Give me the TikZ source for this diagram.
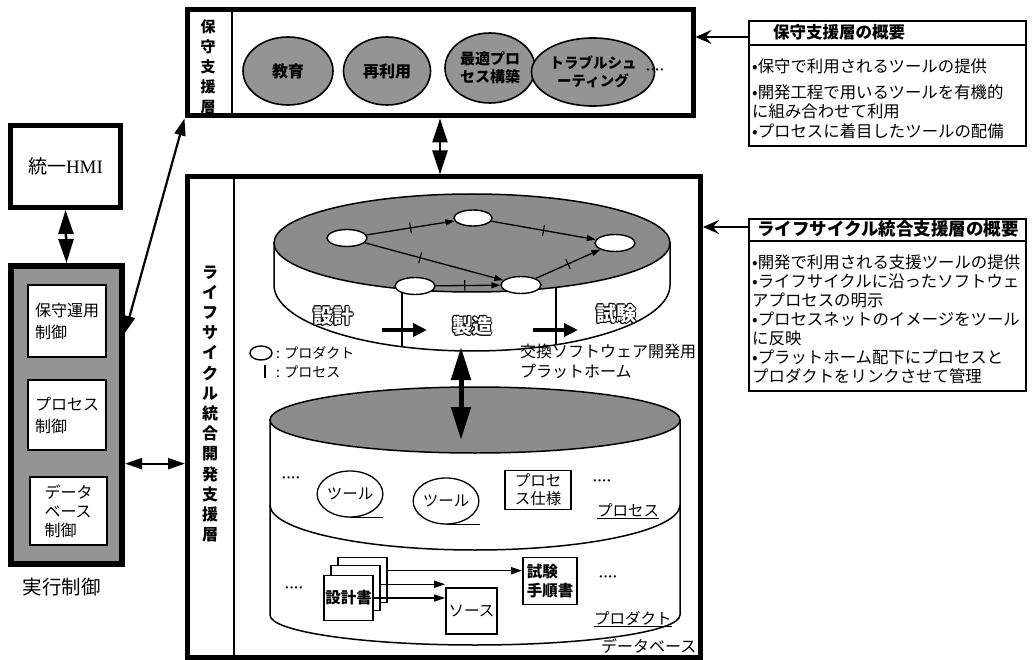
\documentclass[tikz,border=0pt]{standalone}
\usepackage{fontspec}
\setmainfont{Liberation Serif}
\newfontfamily\jp{Noto Sans CJK JP}
\usetikzlibrary{arrows.meta,shapes.geometric,calc}
\newcommand\fs[2]{\fontsize{#1}{#2}\selectfont}
\tikzset{
  heavybox/.style={draw, line width=5pt, fill=white, inner sep=0pt},
  whitebox/.style={draw, line width=1.6pt, fill=white, inner sep=0pt},
  shadebox/.style={draw, line width=6pt, fill=black!42, inner sep=0pt},
  sumbox/.style={draw, line width=2.5pt, fill=white, inner sep=0pt},
  blob/.style={ellipse, draw, line width=1.6pt, fill=black!42, inner sep=0pt, align=center, font=\jp\bfseries\fs{16}{18}},
  netnode/.style={ellipse, draw, line width=1.4pt, fill=white, minimum width=40pt, minimum height=17pt, inner sep=0pt},
  bigarr/.style={line width=2.5pt, {Triangle[length=24pt,width=15pt]}-{Triangle[length=24pt,width=15pt]}},
  midarr/.style={line width=2.2pt, {Triangle[length=17pt,width=11pt]}-{Triangle[length=17pt,width=11pt]}},
  openarr/.style={line width=1.8pt, -{Stealth[length=16pt,width=14pt,inset=6pt]}},
  netarr/.style={line width=1.3pt, -{Triangle[length=9pt,width=6pt]}},
  diskarr/.style={line width=3.5pt, -{Triangle[length=14pt,width=13pt]}},
  dbarr/.style={line width=5pt, {Triangle[length=33pt,width=19pt]}-{Triangle[length=33pt,width=19pt]}},
  thinarr/.style={line width=1.3pt, -{Triangle[length=11pt,width=7pt]}},
  tickmark/.style={draw, line width=1.1pt, minimum width=0pt, minimum height=11pt, inner sep=0pt, sloped},
  body/.style={anchor=west, inner sep=0pt, font=\jp\fs{16.4}{19}},
  btxt/.style={inner sep=0pt, font=\jp\bfseries\fs{15}{18}, align=center},
  dots/.style={inner sep=0pt, font=\bfseries\fs{14}{14}},
  disklabel/.style={inner sep=0pt, font=\jp\bfseries\fs{20}{20}},
}
\begin{document}
\begin{tikzpicture}[x=1pt,y=-1pt]
\useasboundingbox (0,0) rectangle (1033,660);

% ---------- maintenance support layer (top box)
\node[heavybox, minimum width=506pt, minimum height=106pt] (hosyu) at (440,63) {};
\draw[line width=1.2pt] (232,10) -- (232,116);
\node[btxt, font=\jp\bfseries\fs{15}{20}] (hosyulbl) at (208,67) {保\\守\\支\\援\\層};
\node[blob, minimum width=90pt, minimum height=68pt] (kyoiku) at (288,71) {教育};
\node[blob, minimum width=87pt, minimum height=68pt] (sairiyo) at (387,71) {再利用};
\node[blob, minimum width=90pt, minimum height=70pt, font=\jp\bfseries\fs{15}{18}] (saiteki) at (490,68) {最適プロ\\セス構築};
\node[blob, minimum width=89pt, minimum height=68pt, font=\jp\bfseries\fs{14.5}{18}] (trouble) at (593,72) {トラブルシュ\\ーティング};
\node[dots] (dots0) at (655,72) {····};

% ---------- summary box 1
\node[sumbox, minimum width=277pt, minimum height=125pt] (sum1) at (887.5,83.5) {};
\draw[line width=1.6pt] (748,45) -- (1027,45);
\node[anchor=west, inner sep=0pt, font=\jp\bfseries\fs{16.5}{16}] (sum1h) at (773,32) {保守支援層の概要};
\node[body] (s1l1) at (752,66) {•保守で利用されるツールの提供};
\node[body] (s1l2) at (752,92) {•開発工程で用いるツールを有機的};
\node[body] (s1l3) at (752,111) {に組み合わせて利用};
\node[body] (s1l4) at (752,131) {•プロセスに着目したツールの配備};
\coordinate (s1a) at (748,37);
\draw[openarr] (s1a) -- (s1a -| hosyu.east);

% ---------- summary box 2
\node[sumbox, minimum width=277pt, minimum height=172pt] (sum2) at (887.5,305) {};
\draw[line width=1.6pt] (748,241) -- (1027,241);
\node[anchor=west, inner sep=0pt, font=\jp\bfseries\fs{17.5}{17}] (sum2h) at (757,229) {ライフサイクル統合支援層の概要};
\node[body] (s2l1) at (752,262) {•開発で利用される支援ツールの提供};
\node[body] (s2l2) at (752,281) {•ライフサイクルに沿ったソフトウェ};
\node[body] (s2l3) at (752,300) {アプロセスの明示};
\node[body] (s2l4) at (752,319) {•プロセスネットのイメージをツール};
\node[body] (s2l5) at (752,338) {に反映};
\node[body] (s2l6) at (752,357) {•プラットホーム配下にプロセスと};
\node[body] (s2l7) at (752,376) {プロダクトをリンクさせて管理};

% ---------- lifecycle layer (main box)
\node[heavybox, minimum width=513pt, minimum height=480pt] (mainbox) at (444,417) {};
\draw[line width=1.2pt] (234,177.5) -- (234,657);
\node[btxt, font=\jp\bfseries\fs{16}{20.2}] (lclbl) at (210,404) {ラ\\イ\\フ\\サ\\イ\\ク\\ル\\統\\合\\開\\発\\支\\援\\層};
\coordinate (s2a) at (748,227);
\draw[openarr] (s2a) -- (s2a -| mainbox.east);
\draw[bigarr] (hosyu.south) -- (hosyu.south |- mainbox.north);

% ---------- upper disk (platform)
\draw[line width=1.5pt, fill=white] (274,243) -- (274,285) arc[start angle=180, end angle=0, x radius=198, y radius=66] -- (670,243) -- cycle;
\draw[line width=1.5pt, fill=black!45] (472,243) ellipse [x radius=198, y radius=49];
\draw[line width=1.2pt] (402,288.8) -- (402,346.7);
\draw[line width=1.2pt] (556,287.4) -- (556,344.8);
\node[netnode] (n1) at (347,238) {};
\node[netnode, minimum width=38pt, minimum height=16pt] (n2) at (473,218) {};
\node[netnode] (n3) at (615,243) {};
\node[netnode] (n4) at (521,285) {};
\node[netnode] (n5) at (415,286) {};
\draw[netarr] (n1) -- node[tickmark, pos=0.5]{} (n2);
\draw[netarr] (n2) -- node[tickmark, pos=0.5]{} (n3);
\draw[netarr] (n1) -- node[tickmark, pos=0.4]{} (n4);
\draw[netarr] (n5) -- node[tickmark, pos=0.45]{} (n4);
\draw[netarr] (n4) -- node[tickmark, pos=0.5]{} (n3);
\foreach \dx/\dy in {1/0,-1/0,0/1,0/-1,0.7/0.7,-0.7/0.7,0.7/-0.7,-0.7/-0.7}{
  \node[disklabel] at (333+\dx,316+\dy) {設計};
  \node[disklabel] at (472+\dx,326+\dy) {製造};
  \node[disklabel] at (616+\dx,314+\dy) {試験};
}
\node[disklabel, text=white] (sekkei) at (333,316) {設計};
\node[disklabel, text=white] (seizo) at (472,326) {製造};
\node[disklabel, text=white] (shiken) at (616,314) {試験};
\coordinate (da1) at (382,330); \coordinate (da2) at (427,330);
\coordinate (db1) at (533,330); \coordinate (db2) at (578,330);
\draw[diskarr] (da1) -- (da2);
\draw[diskarr] (db1) -- (db2);

% legend + platform label
\node[netnode, minimum width=22pt, minimum height=14pt] (legp) at (261,353) {};
\node[anchor=west, inner sep=0pt, font=\jp\fs{14}{14}] (legpt) at (276,353) {: プロダクト};
\draw[line width=1.3pt] (265,365) -- (265,378);
\node[anchor=west, inner sep=0pt, font=\jp\fs{14}{14}] (legst) at (276,372) {: プロセス};
\node[anchor=west, inner sep=0pt, font=\jp\fs{16}{16}] (plat1) at (520,351) {交換ソフトウェア開発用};
\node[anchor=west, inner sep=0pt, font=\jp\fs{16}{16}] (plat2) at (520,371) {プラットホーム};

% ---------- database cylinder
\draw[line width=1.5pt, fill=white] (270,420) -- (270,615) arc[start angle=180, end angle=0, x radius=205, y radius=30] -- (680,420) -- cycle;
\draw[line width=1.5pt, fill=black!45] (475,420) ellipse [x radius=205, y radius=33];
\draw[line width=1.5pt] (270,505) arc[start angle=180, end angle=0, x radius=205, y radius=45];
\coordinate (up1) at (461,347); \coordinate (up2) at (461,440);
\draw[dbarr] (up1) -- (up2);

% process layer
\node[dots] (dots1) at (291,480) {····};
\node[ellipse, draw, line width=1.3pt, minimum width=52pt, minimum height=46pt, inner sep=0pt, font=\jp\fs{15.5}{15}] (tool1) at (350,494) {ツール};
\draw[line width=1.3pt] (tool1.south) -- ++(33,0);
\node[ellipse, draw, line width=1.3pt, minimum width=53pt, minimum height=46pt, inner sep=0pt, font=\jp\fs{15.5}{15}] (tool2) at (446,501) {ツール};
\draw[line width=1.3pt] (tool2.south) -- ++(34,0);
\node[whitebox, minimum width=66pt, minimum height=39pt, font=\jp\fs{15.5}{18}, align=center] (spec) at (538,490) {プロセ\\ス仕様};
\node[dots] (dots2) at (602,483) {····};
\node[anchor=west, inner sep=0pt, font=\jp\fs{15.5}{15}] (proclbl) at (597,511) {\underline{プロセス}};

% product layer
\node[whitebox, minimum width=49pt, minimum height=45pt] (doc3) at (362.5,580) {};
\node[whitebox, minimum width=49pt, minimum height=45pt] (doc2) at (355.5,588) {};
\node[whitebox, minimum width=49pt, minimum height=45pt, font=\jp\bfseries\fs{15.5}{15}] (doc1) at (348.5,598) {設計書};
\node[whitebox, minimum width=54pt, minimum height=47pt, font=\jp\bfseries\fs{15.5}{19}, align=left] (tproc) at (550,581) {試験\\手順書};
\node[whitebox, minimum width=51pt, minimum height=46pt, font=\jp\fs{15.5}{15}] (src) at (471.5,611) {ソース};
\draw[thinarr] ($(doc3.north east)!0.3!(doc3.south east)$) coordinate (pa) -- (pa -| tproc.west);
\draw[thinarr] ($(doc2.north east)!0.42!(doc2.south east)$) coordinate (pb) -- (pb -| src.west);
\draw[thinarr] ($(doc1.north east)!0.5!(doc1.south east)$) coordinate (pc) -- (pc -| src.west);
\node[dots] (dots3) at (294,590) {····};
\node[dots] (dots4) at (608,579) {····};
\node[anchor=west, inner sep=0pt, font=\jp\fs{15.5}{15}] (prodlbl) at (594,619) {\underline{プロダクト}};
\node[anchor=west, inner sep=0pt, font=\jp\fs{16}{16}] (dblbl) at (601,646) {データベース};

% ---------- left column
\node[heavybox, minimum width=110pt, minimum height=82pt, font=\jp\fs{19}{19}] (hmi) at (65.5,166.5) {統一\fontspec{Liberation Serif}HMI};
\node[shadebox, minimum width=111pt, minimum height=298pt] (exec) at (66.5,415) {};
\node[whitebox, minimum width=78pt, minimum height=72pt, font=\jp\fs{16}{22}, align=left] (ctl1) at (67,321) {保守運用\\制御};
\node[whitebox, minimum width=78pt, minimum height=70pt, font=\jp\fs{16}{22}, align=left] (ctl2) at (67,415) {プロセス\\制御};
\node[whitebox, minimum width=77pt, minimum height=68pt, font=\jp\fs{16}{19}, align=left] (ctl3) at (68.5,511) {データ\\ベース\\制御};
\node[inner sep=0pt, font=\jp\fs{19.5}{19}] (execlbl) at (62,587) {実行制御};
\draw[bigarr] (hmi.south) -- (exec.north);
\draw[midarr] (hosyu.south west) -- ($(exec.north east)!0.23!(exec.south east)$);
\draw[midarr] ($(exec.north east)!0.66!(exec.south east)$) coordinate (ea) -- (ea -| mainbox.west);
\end{tikzpicture}
\end{document}
